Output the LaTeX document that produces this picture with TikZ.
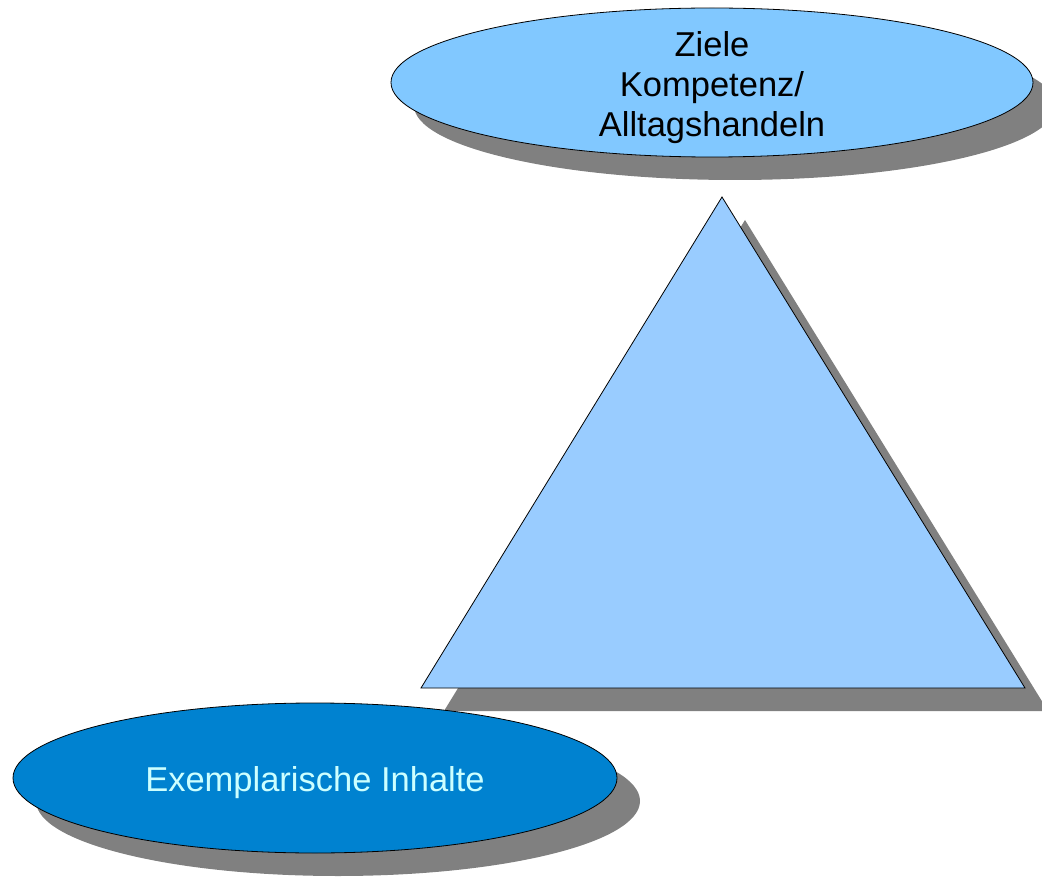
\documentclass[tikz,border=0pt]{standalone}
\usepackage{fontspec}
\setmainfont{Liberation Sans}
\usetikzlibrary{shapes.geometric,shadows}
\definecolor{topblue}{RGB}{129,200,255}
\definecolor{triblue}{RGB}{153,204,255}
\definecolor{deepblue}{RGB}{0,130,208}
\definecolor{paletext}{RGB}{204,255,255}
\definecolor{shadowgray}{RGB}{128,128,128}
\tikzset{
  shade23/.style={drop shadow={shadow xshift=23pt, shadow yshift=-23pt, fill=shadowgray, opacity=1}},
  oval/.style={ellipse, draw=black, line width=0.8pt, inner sep=0pt, shade23},
  caption/.style={inner sep=0pt, align=center, font=\fontsize{34.5}{40}\selectfont},
}
\begin{document}
\begin{tikzpicture}[x=1pt,y=-1pt]
\useasboundingbox (0,0) rectangle (1042,877);
% triangle
\coordinate (apex) at (722,197);
\coordinate (bl) at (421,688);
\coordinate (br) at (1025,688);
\filldraw[fill=triblue, draw=black, line width=0.8pt, line join=miter, shade23] (apex) -- (br) -- (bl) -- cycle;
% ellipses
\node[oval, fill=topblue, minimum width=642pt, minimum height=149pt] (goal) at (712,82.5) {};
\node[caption, yshift=-5.5pt] (goaltext) at (goal.center) {Ziele\\Kompetenz/\\Alltagshandeln};
\node[oval, fill=deepblue, minimum width=604pt, minimum height=150pt] (content) at (315,778) {};
\node[caption, text=paletext, yshift=-4.5pt] (contenttext) at (content.center) {Exemplarische Inhalte};
\end{tikzpicture}
\end{document}
